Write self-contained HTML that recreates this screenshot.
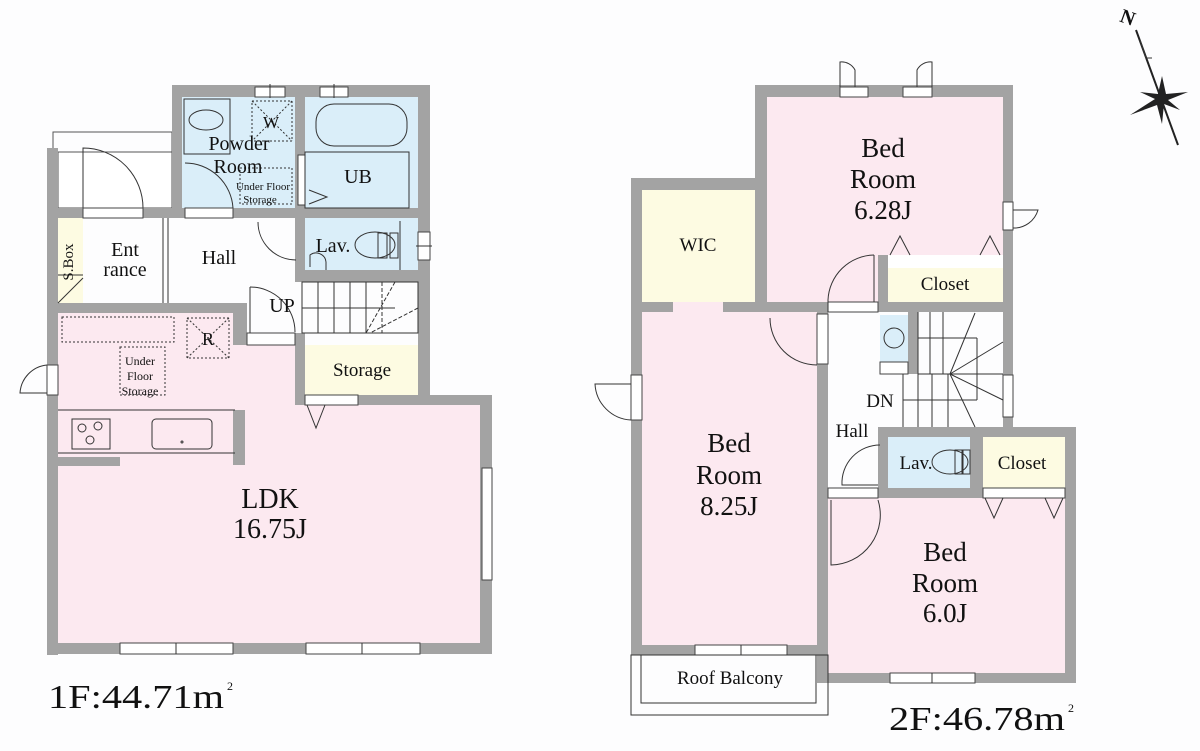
<!DOCTYPE html>
<html><head><meta charset="utf-8"><style>
html,body{margin:0;padding:0;background:#fdfdfe;}
svg{display:block}
text{font-family:"Liberation Serif",serif;fill:#111;}
</style></head><body>
<svg width="1200" height="751" viewBox="0 0 1200 751" xmlns="http://www.w3.org/2000/svg">
<rect width="1200" height="751" fill="#fdfdfe"/>
<g stroke="none">
<rect x="182" y="97" width="113" height="111" fill="#daeef9"/>
<rect x="305" y="97" width="113" height="111" fill="#daeef9"/>
<rect x="305" y="218" width="113" height="52" fill="#daeef9"/>
<rect x="58" y="218" width="25" height="85" fill="#fdfbe2"/>
<rect x="305" y="345" width="113" height="50" fill="#fdfbe2"/>
<polygon points="58,313 233,313 233,345 295,345 295,405 482,405 482,643 58,643" fill="#fce9f0"/>
</g>
<rect x="53" y="132" width="119" height="76" fill="none" stroke="#555" stroke-width="1"/>
<rect x="58" y="152" width="114" height="56" fill="#fff" stroke="#555" stroke-width="1"/>
<path d="M83,208 L83,148 A60,60 0 0 1 143,208" fill="none" stroke="#333" stroke-width="1"/>
<g fill="#a3a3a3">
<rect x="47" y="148" width="11" height="507"/>
<rect x="172" y="85" width="10" height="133"/>
<rect x="172" y="85" width="258" height="12"/>
<rect x="418" y="85" width="12" height="320"/>
<rect x="295" y="97" width="10" height="185"/>
<rect x="47" y="208" width="383" height="10"/>
<rect x="295" y="270" width="135" height="12"/>
<rect x="47" y="303" width="193" height="10"/>
<rect x="233" y="303" width="14" height="42"/>
<rect x="295" y="333" width="10" height="72"/>
<rect x="295" y="395" width="197" height="10"/>
<rect x="480" y="395" width="12" height="258"/>
<rect x="47" y="643" width="445" height="11"/>
<rect x="233" y="410" width="12" height="55"/>
<rect x="58" y="457" width="62" height="9"/>
</g>
<g fill="#fff" stroke="#444" stroke-width="1">
<rect x="83" y="208" width="60" height="10"/>
<rect x="185" y="208" width="48" height="10"/>
<rect x="298" y="155" width="7" height="50"/>
<rect x="255" y="87" width="30" height="10"/>
<rect x="320" y="87" width="28" height="10"/>
<rect x="418" y="232" width="12" height="28"/>
<rect x="47" y="365" width="11" height="30"/>
<rect x="305" y="395" width="53" height="10"/>
<rect x="120" y="643" width="113" height="11"/>
<rect x="306" y="643" width="114" height="11"/>
<rect x="482" y="468" width="10" height="112"/>
<rect x="247" y="333" width="48" height="12"/>
</g>
<g stroke="#333" stroke-width="1" fill="none">
<line x1="163" y1="218" x2="163" y2="303"/><line x1="168" y1="218" x2="168" y2="303"/>
<line x1="58" y1="275" x2="83" y2="275"/><line x1="58" y1="303" x2="83" y2="278"/>
<line x1="176" y1="643" x2="176" y2="654"/><line x1="362" y1="643" x2="362" y2="654"/>
<line x1="270" y1="84" x2="270" y2="98"/><line x1="334" y1="84" x2="334" y2="98"/>
<line x1="416" y1="246" x2="432" y2="246"/>
<rect x="184" y="99" width="46" height="55"/>
<ellipse cx="206" cy="120" rx="17" ry="10"/>
<rect x="252" y="101" width="40" height="40" stroke-dasharray="2,2"/>
<line x1="252" y1="101" x2="292" y2="141" stroke-dasharray="2,2"/><line x1="292" y1="101" x2="252" y2="141" stroke-dasharray="2,2"/>
<rect x="240" y="168" width="52" height="36" stroke-dasharray="2,2"/>
<path d="M185,163 A48,48 0 0 1 233,208"/>
<rect x="316" y="104" width="91" height="42" rx="18"/>
<rect x="305" y="152" width="104" height="56"/>
<polyline points="309,190 327,197 309,204"/>
<path d="M258,222 A38,38 0 0 0 296,260"/>
<ellipse cx="375" cy="245" rx="20" ry="13"/>
<rect x="378" y="233" width="9" height="25"/><rect x="390" y="233" width="8" height="25"/>
<line x1="400" y1="221" x2="400" y2="270"/>
<path d="M310,267 L310,255 A10,10 0 0 1 326,262 L326,270"/>
<rect x="302" y="282" width="116" height="51"/>
<line x1="302" y1="308" x2="395" y2="308"/>
<line x1="318" y1="282" x2="318" y2="333"/><line x1="334" y1="282" x2="334" y2="333"/><line x1="350" y1="282" x2="350" y2="333"/><line x1="366" y1="282" x2="366" y2="333"/><line x1="382" y1="282" x2="382" y2="333" stroke-dasharray="4,2"/>
<line x1="395" y1="282" x2="366" y2="333" stroke-dasharray="4,2"/><line x1="418" y1="308" x2="370" y2="333" stroke-dasharray="4,2"/>
<path d="M250,287 A45,45 0 0 1 295,332"/><line x1="250" y1="287" x2="250" y2="333"/>
<rect x="62" y="317" width="112" height="25" stroke-dasharray="2,2"/>
<rect x="187" y="318" width="42" height="40" stroke-dasharray="2,2"/>
<line x1="187" y1="318" x2="229" y2="358" stroke-dasharray="2,2"/><line x1="229" y1="318" x2="187" y2="358" stroke-dasharray="2,2"/>
<rect x="120" y="347" width="45" height="48" stroke-dasharray="2,2"/>
<path d="M47,365 A30,30 0 0 0 20,393 L47,393"/>
<line x1="58" y1="410" x2="235" y2="410"/>
<line x1="58" y1="453" x2="235" y2="453"/>
<rect x="72" y="419" width="38" height="30"/>
<circle cx="82" cy="428" r="4"/><circle cx="98" cy="426" r="4"/><circle cx="90" cy="440" r="4"/>
<rect x="152" y="419" width="60" height="30" rx="4"/>
<circle cx="182" cy="442" r="1"/>
<polyline points="307,405 316,428 325,405"/>
</g>
<g text-anchor="middle">
<text x="239" y="150" font-size="20">Powder</text>
<text x="238" y="173" font-size="20">Room</text>
<text x="263" y="190" font-size="11">Under Floor</text>
<text x="260" y="203" font-size="11">Storage</text>
<text x="271" y="128" font-size="17">W</text>
<text x="358" y="183" font-size="20">UB</text>
<text x="125" y="256" font-size="20">Ent</text>
<text x="125" y="276" font-size="20">rance</text>
<text x="219" y="264" font-size="20">Hall</text>
<text x="333" y="252" font-size="20">Lav.</text>
<text x="282" y="312" font-size="20">UP</text>
<text x="208" y="345" font-size="18">R</text>
<text x="140" y="365" font-size="12">Under</text>
<text x="140" y="380" font-size="12">Floor</text>
<text x="140" y="395" font-size="12">Storage</text>
<text x="362" y="376" font-size="19">Storage</text>
<text x="270" y="508" font-size="28">LDK</text>
<text x="270" y="538" font-size="28">16.75J</text>
</g>
<text x="73" y="262" font-size="15" transform="rotate(-90 73 262)" text-anchor="middle">S.Box</text>
<text x="48" y="708" font-size="34" textLength="176" lengthAdjust="spacingAndGlyphs">1F:44.71m</text>
<text x="227" y="690" font-size="12">2</text>

<g stroke="none">
<rect x="642" y="190" width="113" height="112" fill="#fdfbe2"/>
<rect x="767" y="97" width="236" height="205" fill="#fce9f0"/>
<rect x="828" y="255" width="50" height="50" fill="#fce9f0"/>
<rect x="888" y="255" width="115" height="47" fill="#fff"/>
<rect x="888" y="268" width="115" height="34" fill="#fdfbe2"/>
<rect x="642" y="302" width="175" height="343" fill="#fce9f0"/>
<rect x="888" y="437" width="82" height="51" fill="#daeef9"/>
<rect x="983" y="437" width="82" height="51" fill="#fdfbe2"/>
<rect x="828" y="498" width="237" height="175" fill="#fce9f0"/>
<rect x="880" y="315" width="28" height="47" fill="#daeef9"/>
</g>
<g fill="#a3a3a3">
<rect x="631" y="178" width="11" height="477"/>
<rect x="631" y="178" width="136" height="12"/>
<rect x="755" y="85" width="12" height="227"/>
<rect x="755" y="85" width="258" height="12"/>
<rect x="1003" y="85" width="10" height="350"/>
<rect x="631" y="302" width="42" height="10"/>
<rect x="723" y="302" width="105" height="10"/>
<rect x="878" y="255" width="10" height="57"/>
<rect x="878" y="302" width="135" height="10"/>
<rect x="817" y="302" width="11" height="381"/>
<rect x="631" y="645" width="197" height="10"/>
<rect x="878" y="427" width="197" height="10"/>
<rect x="878" y="427" width="10" height="71"/>
<rect x="970" y="437" width="13" height="61"/>
<rect x="828" y="488" width="247" height="10"/>
<rect x="1065" y="427" width="11" height="256"/>
<rect x="817" y="673" width="259" height="10"/>
<rect x="908" y="312" width="10" height="62"/>
</g>
<g fill="#fff" stroke="#444" stroke-width="1">
<rect x="840" y="87" width="28" height="10"/>
<rect x="903" y="87" width="29" height="10"/>
<rect x="1003" y="202" width="10" height="28"/>
<rect x="1003" y="375" width="10" height="42"/>
<rect x="631" y="375" width="11" height="45"/>
<rect x="817" y="314" width="11" height="50"/>
<rect x="828" y="488" width="50" height="10"/>
<rect x="983" y="488" width="82" height="10"/>
<rect x="695" y="645" width="92" height="10"/>
<rect x="890" y="673" width="85" height="10"/>
<rect x="828" y="302" width="50" height="10"/>
<rect x="880" y="362" width="28" height="12"/>
</g>
<g stroke="#333" stroke-width="1" fill="none">
<path d="M840,87 L840,62 A15,15 0 0 1 855,70 L855,87"/>
<path d="M932,87 L932,62 A15,15 0 0 0 917,70 L917,87"/>
<path d="M1013,210 L1038,210 A25,25 0 0 1 1013,228"/>
<path d="M631,384 L595,384 A38,38 0 0 0 631,420"/>
<path d="M770,318 A47,47 0 0 0 817,365"/>
<path d="M874,255 A47,47 0 0 0 828,300 L828,312"/>
<line x1="874" y1="255" x2="874" y2="302"/>
<polyline points="890,255 900,236 910,255"/><polyline points="980,255 990,236 1000,255"/>
<line x1="741" y1="645" x2="741" y2="655"/><line x1="932" y1="673" x2="932" y2="683"/>
<circle cx="894" cy="338" r="10"/>
<line x1="918" y1="312" x2="918" y2="374"/>
<line x1="930" y1="312" x2="930" y2="374"/><line x1="943" y1="312" x2="943" y2="374"/>
<line x1="918" y1="338" x2="977" y2="338"/><line x1="977" y1="338" x2="977" y2="400"/>
<line x1="918" y1="374" x2="1003" y2="374"/>
<line x1="903" y1="374" x2="903" y2="427"/>
<line x1="918" y1="374" x2="918" y2="427"/><line x1="932" y1="374" x2="932" y2="427"/><line x1="948" y1="374" x2="948" y2="427"/>
<line x1="903" y1="400" x2="977" y2="400"/>
<line x1="950" y1="374" x2="975" y2="313"/><line x1="950" y1="374" x2="1003" y2="342"/><line x1="950" y1="374" x2="1003" y2="400"/><line x1="950" y1="374" x2="975" y2="427"/>
<path d="M880,445 A38,38 0 0 0 842,485 L878,485"/>
<ellipse cx="950" cy="462" rx="18" ry="12"/>
<rect x="955" y="450" width="7" height="24"/><rect x="963" y="450" width="7" height="24"/>
<path d="M831,500 L831,565 A50,50 0 0 0 878,500"/>
<polyline points="985,498 994,518 1003,498"/><polyline points="1045,498 1054,518 1063,498"/>
<rect x="631" y="655" width="197" height="60"/>
<rect x="641" y="655" width="175" height="48"/>
<line x1="1136" y1="30" x2="1178" y2="145" stroke="#222" stroke-width="2"/>
<polyline points="1140,40 1146,58 1152,58"/>
</g>
<polygon fill="#222" points="1162,76 1166,94 1188,92 1168,100 1180,110 1164,104 1162,124 1157,105 1130,115 1155,99 1140,92 1158,94" />
<text x="1128" y="24" font-size="20" font-weight="bold" text-anchor="middle" transform="rotate(20 1128 17)">N</text>
<g text-anchor="middle">
<text x="698" y="251" font-size="19">WIC</text>
<text x="883" y="157" font-size="27">Bed</text>
<text x="883" y="188" font-size="27">Room</text>
<text x="883" y="219" font-size="27">6.28J</text>
<text x="945" y="290" font-size="19">Closet</text>
<text x="729" y="452" font-size="27">Bed</text>
<text x="729" y="484" font-size="27">Room</text>
<text x="729" y="515" font-size="27">8.25J</text>
<text x="880" y="407" font-size="19">DN</text>
<text x="852" y="437" font-size="19">Hall</text>
<text x="916" y="469" font-size="19">Lav.</text>
<text x="1022" y="469" font-size="19">Closet</text>
<text x="945" y="561" font-size="27">Bed</text>
<text x="945" y="592" font-size="27">Room</text>
<text x="945" y="622" font-size="27">6.0J</text>
<text x="730" y="684" font-size="19">Roof Balcony</text>
</g>
<text x="889" y="730" font-size="34" textLength="176" lengthAdjust="spacingAndGlyphs">2F:46.78m</text>
<text x="1068" y="712" font-size="12">2</text>
</svg>
</body></html>
